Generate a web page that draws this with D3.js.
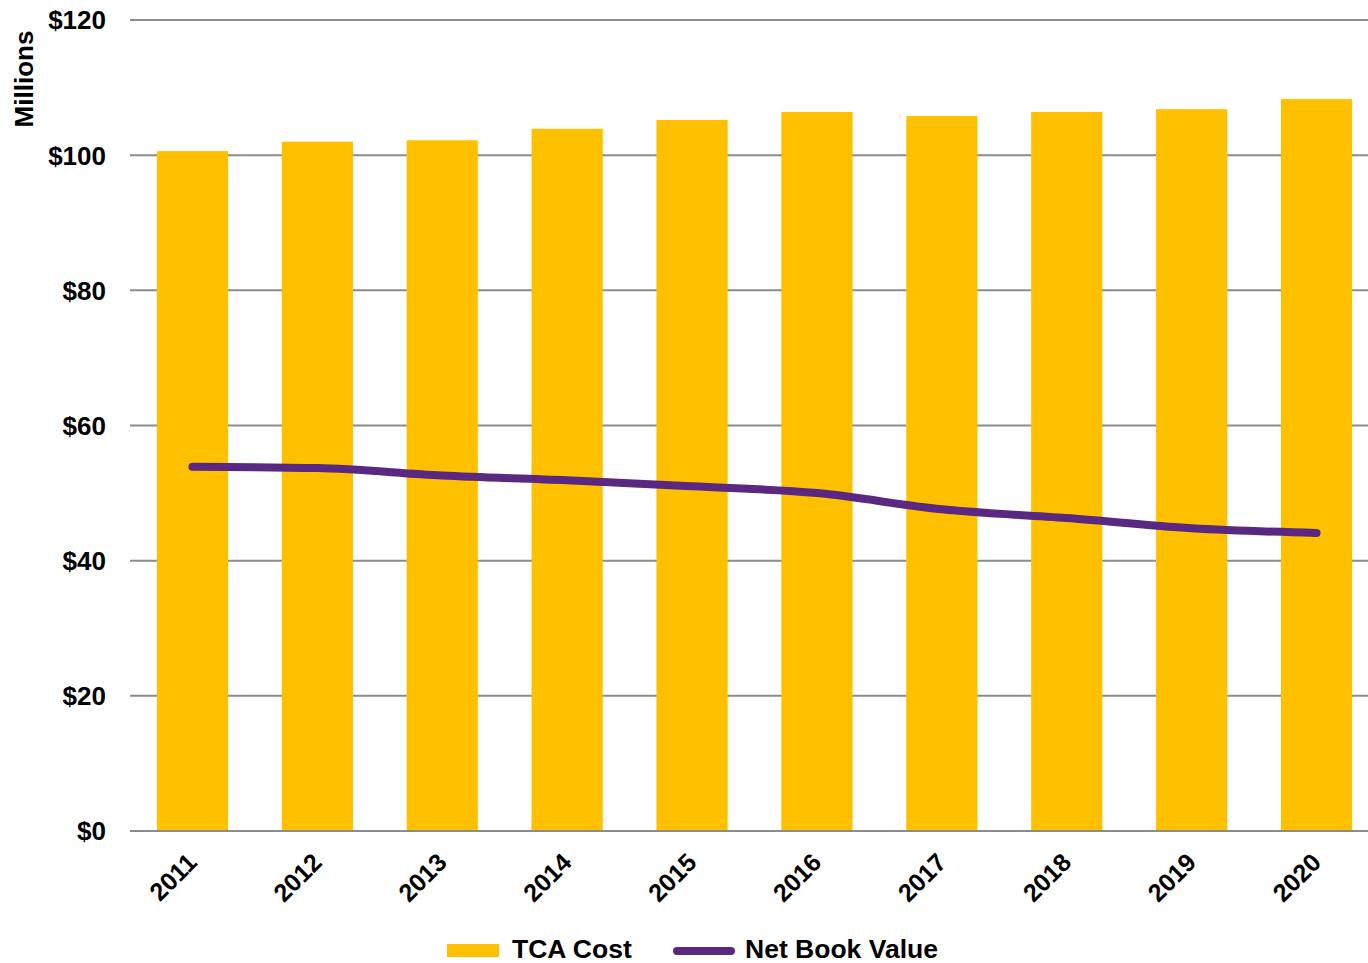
<!DOCTYPE html>
<html>
<head>
<meta charset="utf-8">
<script src="https://cdn.jsdelivr.net/npm/d3@7"></script>
<style>
  body { margin: 0; background: #fff; }
  svg { display: block; font-family: "Liberation Sans", Arial, sans-serif; font-weight: bold; }
</style>
</head>
<body>
<div id="container"></div>
<script>
var years = ["2011", "2012", "2013", "2014", "2015", "2016", "2017", "2018", "2019", "2020"];
var tcaCost = [100.6, 102.0, 102.2, 103.9, 105.2, 106.4, 105.8, 106.4, 106.8, 108.3];
var netBookValue = [53.9, 53.7, 52.6, 51.9, 51.0, 50.0, 47.6, 46.3, 44.8, 44.1];
var yTicks = [0, 20, 40, 60, 80, 100, 120];

var width = 1368,
    height = 963;

var svg = d3.select("div#container")
    .append("svg")
    .attr("width", width)
    .attr("height", height);

var x = d3.scaleBand().domain(years).range([130, 1379]).paddingInner(0.43).paddingOuter(0.215);
var y = d3.scaleLinear().domain([0, 120]).range([831, 20]);

// gridlines
svg.selectAll(".grid")
    .data(yTicks)
    .enter().append("line")
    .attr("x1", 130)
    .attr("x2", width)
    .attr("y1", d => y(d))
    .attr("y2", d => y(d))
    .style("stroke", "#8c8c8c")
    .style("stroke-width", 2);

// y tick labels
svg.selectAll(".ylab")
    .data(yTicks)
    .enter().append("text")
    .attr("x", 106)
    .attr("y", d => y(d))
    .attr("dy", "0.36em")
    .attr("text-anchor", "end")
    .style("font-size", "26px")
    .text(d => "$" + d);

// axis title
svg.append("text")
    .attr("transform", "translate(33,79) rotate(-90)")
    .attr("text-anchor", "middle")
    .style("font-size", "26px")
    .text("Millions");

// bars
svg.selectAll(".bar")
    .data(tcaCost)
    .enter().append("rect")
    .attr("x", (d, i) => x(years[i]))
    .attr("width", x.bandwidth())
    .attr("y", d => y(d))
    .attr("height", d => y(0) - y(d))
    .style("fill", "#ffc000");

// baseline on top of bars
svg.append("line")
    .attr("x1", 130).attr("x2", width)
    .attr("y1", y(0)).attr("y2", y(0))
    .style("stroke", "#8c8c8c")
    .style("stroke-width", 2);

// net book value line
var line = d3.line()
    .x((d, i) => x(years[i]) + x.bandwidth() / 2)
    .y(d => y(d))
    .curve(d3.curveMonotoneX);

svg.append("path")
    .datum(netBookValue)
    .attr("d", line)
    .style("fill", "none")
    .style("stroke", "#5a2781")
    .style("stroke-width", 8)
    .style("stroke-linecap", "round")
    .style("stroke-linejoin", "round");

// x labels
svg.selectAll(".xlab")
    .data(years)
    .enter().append("text")
    .attr("transform", d => "translate(" + (x(d) + x.bandwidth() / 2 + 6) + ",864) rotate(-45)")
    .attr("text-anchor", "end")
    .style("font-size", "25px")
    .text(d => d);

// legend
var legend = svg.append("g");
legend.append("rect")
    .attr("x", 447).attr("y", 944)
    .attr("width", 52).attr("height", 13)
    .style("fill", "#ffc000");
legend.append("text")
    .attr("x", 512).attr("y", 958)
    .style("font-size", "26.5px")
    .text("TCA Cost");
legend.append("line")
    .attr("x1", 677).attr("x2", 731)
    .attr("y1", 951).attr("y2", 951)
    .style("stroke", "#5a2781")
    .style("stroke-width", 8)
    .style("stroke-linecap", "round");
legend.append("text")
    .attr("x", 745).attr("y", 958)
    .style("font-size", "26.5px")
    .text("Net Book Value");
</script>
</body>
</html>
